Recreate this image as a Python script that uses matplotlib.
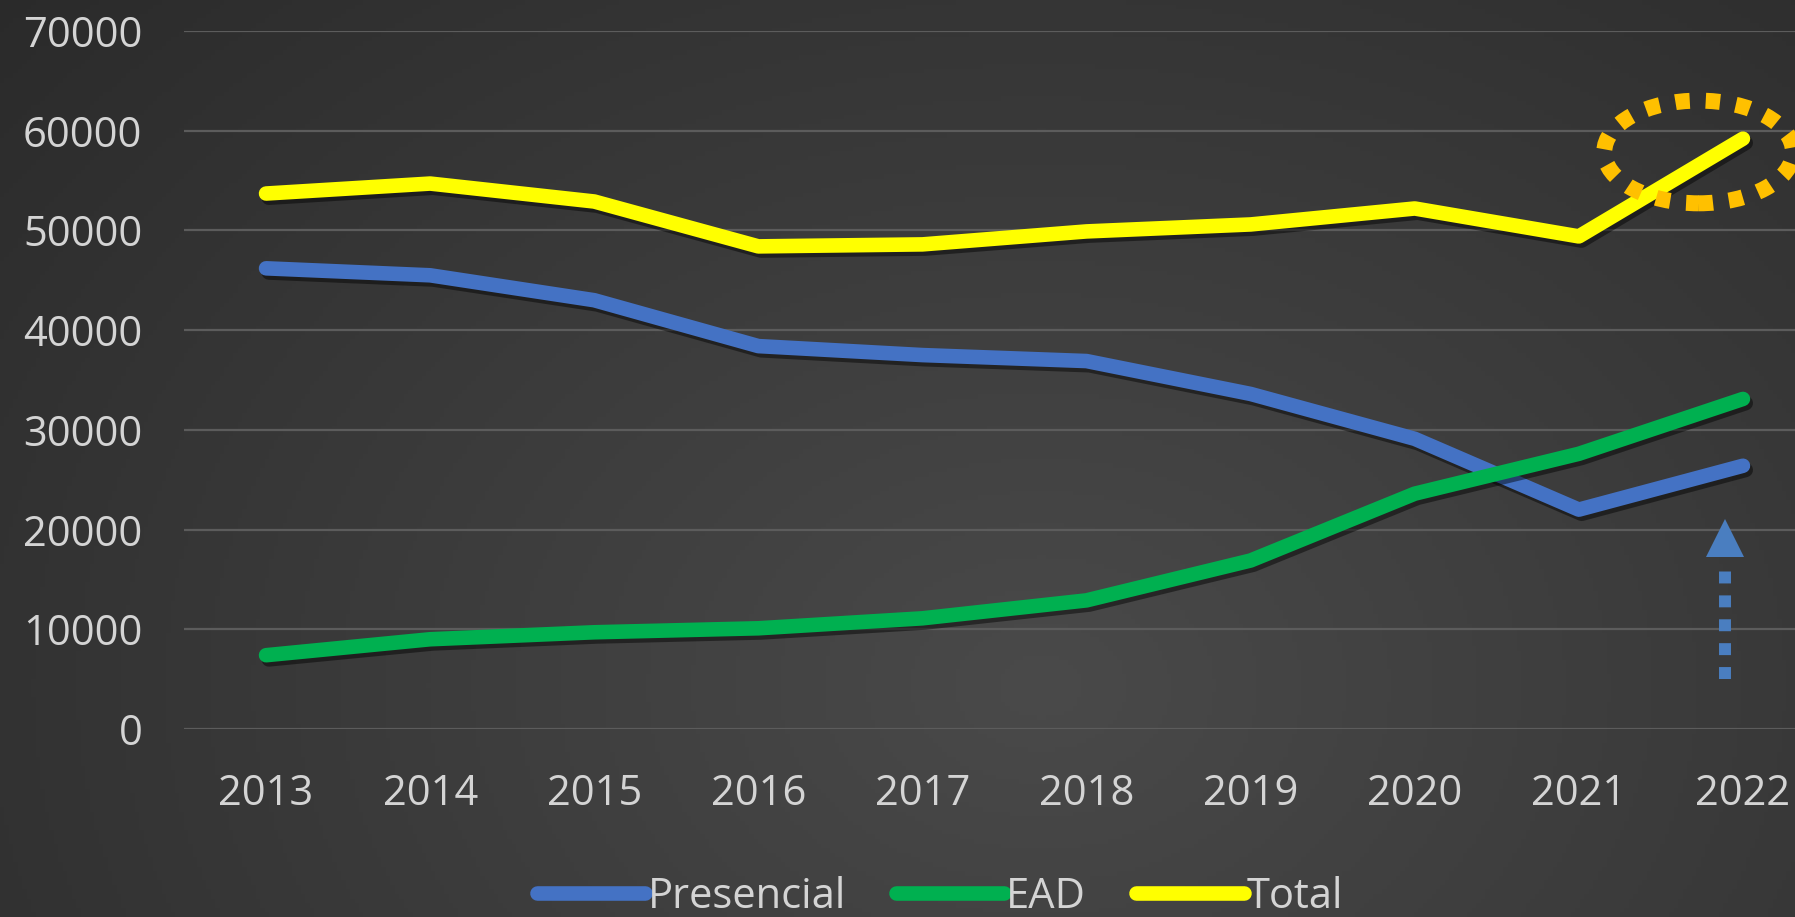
import numpy as np
import matplotlib
matplotlib.use("Agg")
import matplotlib.pyplot as plt
import matplotlib.patheffects as pe
from matplotlib.patches import Ellipse

# matrículas por modalidade
anos = [2013, 2014, 2015, 2016, 2017, 2018, 2019, 2020, 2021, 2022]
presencial = [46200, 45500, 43000, 38400, 37500, 36900, 33600, 29100, 22000, 26400]
ead = [7400, 9000, 9700, 10100, 11100, 12900, 16900, 23600, 27600, 33100]
total = [53700, 54700, 52900, 48400, 48600, 49900, 50600, 52200, 49400, 59200]
yticks = [0, 10000, 20000, 30000, 40000, 50000, 60000, 70000]

plt.rcParams['font.family'] = ['Open Sans', 'DejaVu Sans']

fig = plt.figure(figsize=(17.95, 9.17), dpi=100)

# fundo escuro com degradê
bg = fig.add_axes([0, 0, 1, 1])
gx, gy = np.meshgrid(np.linspace(0, 1, 400), np.linspace(0, 1, 200))
d = np.sqrt(((gx - 0.58) / 0.75) ** 2 + ((gy - 0.25) / 1.1) ** 2)
shade = np.clip(0.29 - 0.12 * d, 0.16, 0.30)
bg.imshow(np.dstack([shade, shade, shade]), extent=[0, 1, 0, 1], aspect='auto', origin='lower')
bg.axis('off')

ax = fig.add_axes([184 / 1795, 188 / 917, 1641 / 1795, 698 / 917])
ax.set_facecolor('none')
ax.set_xlim(anos[0] - 0.5, anos[-1] + 0.5)
ax.set_ylim(0, 70000)
ax.set_yticks(yticks)
ax.set_xticks(anos)
ax.set_xticklabels([str(a) for a in anos])
ax.grid(axis='y', color='#5c5c5c', lw=1.6)
ax.set_axisbelow(True)
for s in ax.spines.values():
    s.set_visible(False)
ax.tick_params(axis='both', length=0, labelsize=30, labelcolor='#d4d4d4')
ax.tick_params(axis='x', pad=32)
ax.tick_params(axis='y', pad=30)

sombra = [pe.SimpleLineShadow(offset=(2, -3), shadow_color='black', alpha=0.45), pe.Normal()]
series = [('Presencial', presencial, '#4472C4'), ('EAD', ead, '#00B050'), ('Total', total, '#FFFF00')]
for nome, vals, cor in series:
    ax.plot(anos, vals, color=cor, lw=10.5, solid_capstyle='round', solid_joinstyle='round',
            label=nome, path_effects=sombra, clip_on=False)

# destaque do total em 2022
ax.add_patch(Ellipse((anos[-1] - 0.27, total[-1] - 1330), 1.15, 10300, fill=False,
                     edgecolor='#FFC000', lw=11.5, linestyle=(0, (0.9, 1.0)), capstyle='butt',
                     clip_on=False, zorder=5))

# seta pontilhada sob o presencial de 2022
xs = anos[-1] - 0.11
ax.plot([xs, xs], [5000, 15900], color='#4A7EC0', lw=8.6, linestyle=(0, (1, 1)),
        dash_capstyle='butt', zorder=5)
ax.plot([xs], [19200], marker='^', markersize=28, color='#4A7EC0', markeredgewidth=0, zorder=5)

leg = fig.legend(loc='center', bbox_to_anchor=(940 / 1795, 20 / 917), ncol=3, frameon=False,
                 fontsize=30, handlelength=2.6, handletextpad=0.05, columnspacing=1.2)
for t in leg.get_texts():
    t.set_color('#d4d4d4')
for h in leg.get_lines():
    h.set_linewidth(10.5)
    h.set_solid_capstyle('round')
    h.set_path_effects([])

fig.savefig('out.png', dpi=100)
